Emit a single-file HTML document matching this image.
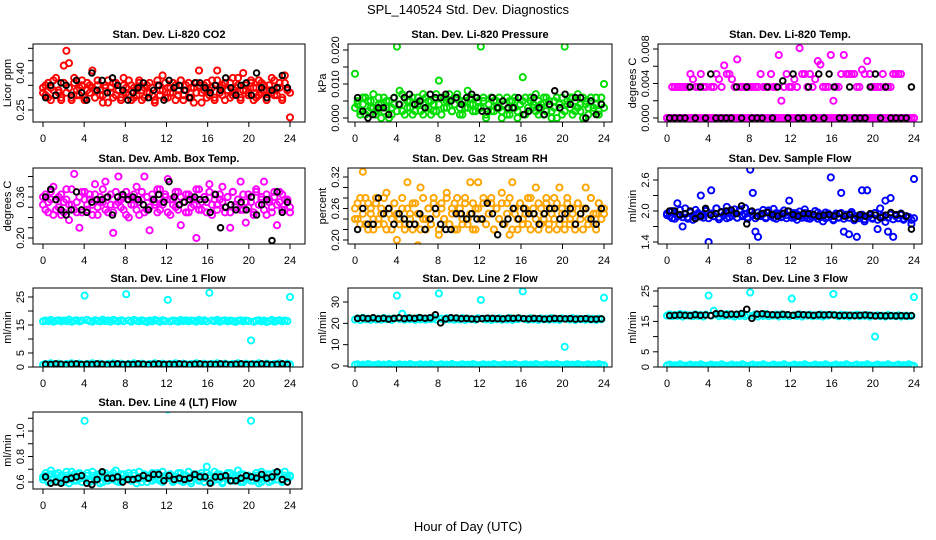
<!DOCTYPE html>
<html><head><meta charset="utf-8"><style>
html,body{margin:0;padding:0;background:#fff;}
svg{display:block;font-family:"Liberation Sans",sans-serif;}
</style></head><body>
<svg id="c" width="936" height="540" viewBox="0 0 936 540">
<text x="468" y="14" text-anchor="middle" font-size="13">SPL_140524  Std. Dev. Diagnostics</text>
<text x="468" y="531" text-anchor="middle" font-size="13">Hour of Day (UTC)</text>
</svg>
<script>
const xTicks=[0,4,8,12,16,20,24];
const co2A=[0.34,0.31,0.36,0.29,0.33,0.38,0.32,0.30,0.43,0.49,0.44,0.29,0.36,0.31,0.34,0.37,0.30,0.33,0.35,0.41,0.33,0.35,0.31,0.28,0.34,0.37,0.32,0.30,0.36,0.33,0.29,0.38,0.34,0.31,0.35,0.30,0.33,0.37,0.29,0.34,0.32,0.36,0.31,0.28,0.35,0.33,0.39,0.30,0.34,0.32,0.36,0.29,0.33,0.37,0.31,0.35,0.30,0.34,0.28,0.36,0.41,0.32,0.35,0.30,0.33,0.37,0.29,0.41,0.34,0.31,0.36,0.33,0.30,0.38,0.32,0.35,0.29,0.40,0.33,0.31,0.36,0.34,0.30,0.37,0.32,0.35,0.29,0.33,0.38,0.31,0.34,0.36,0.30,0.39,0.33,0.22];
const co2B=[0.32,0.35,0.30,0.34,0.37,0.31,0.33,0.29,0.36,0.32,0.34,0.30,0.38,0.33,0.31,0.35,0.29,0.36,0.32,0.34,0.30,0.37,0.33,0.31,0.35,0.28,0.34,0.36,0.31,0.33,0.30,0.35,0.32,0.37,0.29,0.34,0.31,0.36,0.33,0.30,0.35,0.32,0.34,0.29,0.37,0.31,0.33,0.36,0.30,0.34,0.32,0.35,0.31,0.37,0.29,0.33,0.36,0.30,0.34,0.32,0.35,0.28,0.33,0.36,0.31,0.34,0.30,0.37,0.32,0.35,0.29,0.33,0.36,0.31,0.34,0.38,0.30,0.33,0.35,0.32,0.37,0.29,0.34,0.31,0.36,0.33,0.30,0.35,0.32,0.37,0.31,0.34,0.29,0.36,0.33,0.32];
const co2K=[0.30,0.35,0.31,0.36,0.35,0.31,0.37,0.32,0.29,0.40,0.33,0.37,0.32,0.38,0.35,0.33,0.29,0.32,0.34,0.36,0.30,0.33,0.35,0.29,0.37,0.34,0.35,0.33,0.30,0.36,0.36,0.34,0.32,0.35,0.33,0.38,0.34,0.31,0.35,0.36,0.31,0.40,0.34,0.30,0.33,0.34,0.39,0.34];
const presA=[0.013,0.004,0.002,0.006,0.001,0.005,0.003,0.007,0.002,0.004,0.000,0.006,0.003,0.005,0.001,0.004,0.021,0.008,0.002,0.006,0.003,0.005,0.001,0.004,0.006,0.002,0.007,0.003,0.005,0.001,0.004,0.002,0.011,0.006,0.003,0.005,0.007,0.002,0.004,0.006,0.001,0.005,0.003,0.008,0.004,0.002,0.006,0.003,0.021,0.005,0.000,0.004,0.006,0.002,0.005,0.003,0.000,0.004,0.006,0.001,0.005,0.003,0.000,0.004,0.012,0.006,0.002,0.005,0.003,0.007,0.001,0.004,0.006,0.002,0.005,0.000,0.003,0.006,0.004,0.001,0.021,0.005,0.003,0.006,0.002,0.007,0.004,0.000,0.005,0.003,0.006,0.002,0.004,0.001,0.006,0.010];
const presB=[0.003,0.005,0.001,0.004,0.006,0.002,0.005,0.003,0.001,0.006,0.004,0.002,0.005,0.000,0.003,0.006,0.002,0.004,0.007,0.001,0.005,0.003,0.006,0.002,0.004,0.005,0.001,0.006,0.003,0.005,0.002,0.007,0.004,0.001,0.006,0.003,0.005,0.002,0.004,0.007,0.003,0.001,0.005,0.003,0.006,0.004,0.002,0.005,0.003,0.006,0.001,0.004,0.002,0.005,0.003,0.006,0.002,0.004,0.001,0.005,0.003,0.006,0.002,0.004,0.005,0.001,0.003,0.006,0.004,0.002,0.005,0.003,0.001,0.006,0.004,0.002,0.005,0.000,0.003,0.006,0.002,0.004,0.006,0.001,0.005,0.003,0.002,0.006,0.004,0.001,0.005,0.003,0.006,0.002,0.004,0.003];
const presK=[0.006,0.002,0.000,0.001,0.003,0.003,0.001,0.006,0.004,0.006,0.007,0.004,0.005,0.003,0.007,0.006,0.006,0.007,0.005,0.006,0.004,0.006,0.007,0.006,0.002,0.002,0.006,0.003,0.005,0.003,0.003,0.006,0.001,0.002,0.006,0.003,0.001,0.004,0.008,0.003,0.007,0.004,0.006,0.006,0.000,0.005,0.001,0.004];
const tempA=[0,0,0,0,0,0,0,0,0,0,0,0,0,0,0,0,0,0,0,0,0,0,0,0,0,0,0,0,0,0,0,0,0,0,0,0,0,0,0,0,0,0,0,0,0,0,0,0,0,0,0,0,0,0,0,0,0,0,0,0,0,0,0,0,0,0,0,0,0,0,0,0,0,0,0,0,0,0,0,0,0,0,0,0,0,0,0,0,0,0,0,0,0,0,0,0];
const tempB=[0,0,0.0036,0.0036,0.0036,0.0036,0.0036,0.0036,0.0036,0.0051,0.0045,0.0036,0.0036,0.0051,0.0036,0.0036,0,0.0036,0.0036,0.0051,0.0045,0.0036,0.0061,0.0051,0.0051,0.0045,0.0036,0.0068,0.0036,0.0036,0.0036,0.0036,0.0036,0.0036,0.0036,0.0036,0.0051,0.0036,0.0036,0.0036,0.0051,0.0036,0.0036,0.0073,0.0020,0.0036,0.0051,0.0036,0.0036,0.0045,0.0036,0.0081,0.0051,0.0051,0.0036,0.0051,0.0036,0.0045,0.0066,0.0062,0.0036,0.0036,0.0036,0.0073,0.0020,0.0036,0.0036,0.0051,0.0073,0.0051,0.0051,0.0051,0.0051,0.0036,0.0036,0.0056,0.0051,0.0066,0.0051,0.0036,0.0036,0.0036,0.0036,0.0051,0.0036,0.0036,0.0036,0.0051,0.0051,0.0051,0.0051,0,0,0,0,0];
const tempK=[0,0,0,0,0.0036,0,0.0036,0,0.0051,0,0,0,0,0.0036,0,0.0036,0,0,0,0.0036,0,0.0036,0.0043,0,0.0051,0,0,0.0036,0,0.0051,0,0.0051,0.0036,0,0,0.0036,0,0,0,0.0036,0.0051,0,0.0036,0,0,0,0,0.0036];
const ambA=[0.33,0.37,0.30,0.35,0.40,0.31,0.36,0.29,0.34,0.39,0.27,0.33,0.45,0.30,0.24,0.38,0.35,0.31,0.37,0.33,0.41,0.29,0.36,0.34,0.42,0.30,0.37,0.22,0.33,0.44,0.35,0.31,0.38,0.28,0.36,0.33,0.40,0.29,0.35,0.44,0.31,0.23,0.37,0.34,0.30,0.39,0.33,0.36,0.43,0.29,0.35,0.32,0.38,0.25,0.34,0.37,0.30,0.36,0.33,0.20,0.39,0.31,0.36,0.34,0.41,0.29,0.37,0.33,0.35,0.40,0.30,0.36,0.24,0.38,0.32,0.35,0.42,0.31,0.26,0.37,0.34,0.30,0.39,0.33,0.36,0.42,0.29,0.35,0.32,0.38,0.25,0.34,0.37,0.31,0.35,0.32];
const ambB=[0.36,0.31,0.34,0.38,0.29,0.35,0.32,0.37,0.30,0.35,0.33,0.39,0.31,0.34,0.36,0.30,0.38,0.33,0.35,0.29,0.37,0.32,0.34,0.39,0.31,0.36,0.33,0.30,0.38,0.34,0.32,0.36,0.29,0.35,0.33,0.37,0.31,0.34,0.38,0.30,0.36,0.32,0.35,0.33,0.39,0.31,0.34,0.37,0.30,0.35,0.33,0.38,0.31,0.36,0.34,0.30,0.37,0.32,0.35,0.39,0.31,0.34,0.36,0.30,0.38,0.33,0.35,0.31,0.37,0.34,0.32,0.36,0.30,0.38,0.33,0.35,0.31,0.37,0.34,0.32,0.36,0.29,0.38,0.33,0.35,0.31,0.37,0.34,0.30,0.36,0.33,0.38,0.31,0.35,0.34,0.30];
const ambK=[0.36,0.39,0.35,0.31,0.29,0.31,0.38,0.31,0.30,0.34,0.35,0.35,0.36,0.29,0.36,0.37,0.35,0.36,0.35,0.33,0.31,0.35,0.37,0.34,0.42,0.36,0.33,0.34,0.35,0.36,0.35,0.35,0.30,0.37,0.24,0.32,0.33,0.31,0.34,0.31,0.36,0.29,0.33,0.35,0.19,0.38,0.30,0.34];
const rhA=[0.26,0.24,0.28,0.33,0.23,0.27,0.25,0.22,0.28,0.24,0.26,0.23,0.29,0.25,0.22,0.27,0.20,0.24,0.26,0.23,0.31,0.25,0.22,0.27,0.19,0.30,0.24,0.22,0.26,0.23,0.28,0.25,0.21,0.27,0.24,0.29,0.23,0.26,0.22,0.28,0.25,0.23,0.27,0.24,0.31,0.22,0.26,0.31,0.24,0.27,0.23,0.25,0.28,0.22,0.26,0.24,0.29,0.23,0.27,0.21,0.31,0.25,0.22,0.27,0.24,0.26,0.23,0.28,0.25,0.30,0.22,0.26,0.24,0.27,0.23,0.25,0.28,0.22,0.30,0.26,0.24,0.27,0.23,0.25,0.22,0.27,0.24,0.26,0.30,0.23,0.28,0.25,0.22,0.27,0.26,0.25];
const rhB=[0.24,0.27,0.23,0.25,0.28,0.22,0.26,0.24,0.27,0.23,0.25,0.28,0.22,0.26,0.24,0.27,0.25,0.23,0.28,0.22,0.26,0.24,0.27,0.23,0.25,0.22,0.28,0.24,0.26,0.23,0.27,0.25,0.22,0.26,0.24,0.28,0.23,0.25,0.27,0.22,0.26,0.24,0.28,0.23,0.25,0.27,0.22,0.26,0.24,0.28,0.23,0.25,0.27,0.22,0.26,0.24,0.27,0.23,0.25,0.28,0.22,0.26,0.24,0.27,0.23,0.25,0.28,0.22,0.26,0.24,0.27,0.23,0.25,0.28,0.22,0.26,0.24,0.27,0.23,0.25,0.22,0.28,0.24,0.26,0.23,0.27,0.25,0.22,0.26,0.24,0.28,0.23,0.25,0.27,0.24,0.26];
const rhK=[0.22,0.26,0.23,0.23,0.28,0.25,0.26,0.23,0.25,0.24,0.23,0.23,0.25,0.22,0.24,0.26,0.23,0.22,0.22,0.25,0.25,0.24,0.25,0.24,0.24,0.27,0.25,0.21,0.23,0.24,0.26,0.24,0.26,0.25,0.25,0.23,0.25,0.26,0.26,0.24,0.25,0.26,0.23,0.25,0.26,0.24,0.23,0.26];
const sfA=[1.95,1.90,2.00,1.85,2.15,1.92,1.70,2.05,1.88,1.97,1.83,2.02,1.93,2.30,1.87,2.00,1.40,2.40,1.90,2.05,1.84,1.98,1.93,2.08,1.88,1.96,2.03,1.87,1.99,1.92,2.06,1.85,2.80,2.35,1.60,1.50,1.93,2.02,1.86,1.97,1.90,2.04,1.85,1.95,1.88,2.01,1.92,2.20,1.87,1.96,1.83,1.99,1.91,2.03,1.86,1.94,1.89,2.00,1.85,1.93,1.80,1.97,1.88,2.65,1.82,1.95,1.87,2.35,1.60,1.93,1.55,1.98,1.86,1.50,1.90,2.40,1.84,2.40,1.92,1.87,1.96,1.65,2.05,1.88,2.20,1.60,2.25,1.50,1.92,1.86,1.95,1.83,1.90,1.88,1.75,2.62];
const sfB=[1.92,1.98,1.86,1.95,1.90,2.02,1.88,1.94,1.85,1.99,1.91,1.87,1.96,1.89,1.93,2.01,1.86,1.95,1.90,2.05,1.88,1.97,1.92,1.86,2.00,1.91,1.95,1.87,2.03,1.90,1.94,1.88,1.98,1.92,1.86,1.97,1.90,1.95,1.88,2.01,1.93,1.87,1.96,1.91,1.89,1.95,1.86,1.99,1.92,1.88,1.94,1.90,1.87,1.96,1.91,1.85,1.93,1.89,1.97,1.88,1.92,1.86,1.95,1.90,1.84,1.93,1.88,1.96,1.85,1.91,1.87,1.94,1.82,1.90,1.86,1.93,1.80,1.89,1.92,1.85,1.96,1.83,1.88,1.91,1.79,1.87,1.93,1.84,1.90,1.86,1.92,1.85,1.89,1.88,1.83,1.86];
const sfK=[2.00,2.00,1.93,1.95,2.00,1.85,1.90,2.05,1.92,1.95,1.98,2.00,2.02,1.95,2.10,1.75,2.00,1.90,1.95,1.97,1.93,1.90,1.95,2.00,1.93,1.90,1.95,1.95,1.93,1.90,1.92,1.93,1.90,1.95,1.90,1.93,1.85,1.93,1.90,1.95,1.92,1.87,1.92,1.97,1.93,1.95,1.90,1.65];
const l1A=[16.3,16.6,16.4,16.8,16.2,16.5,16.7,16.3,16.6,16.4,16.9,16.2,16.5,16.7,16.3,16.6,25.5,16.8,16.4,16.2,16.7,16.5,16.3,16.9,16.4,16.6,16.2,16.8,16.5,16.3,16.7,16.4,26.0,16.6,16.2,16.8,16.5,16.3,16.7,16.4,16.1,16.6,16.3,16.8,16.5,16.2,16.7,16.4,24.0,16.3,16.6,16.5,16.2,16.8,16.4,16.7,16.3,16.6,16.5,16.2,16.8,16.4,16.7,16.3,26.5,16.6,16.4,16.8,16.2,16.5,16.7,16.3,16.6,16.4,16.1,16.5,16.7,16.3,16.6,16.4,9.5,16.2,16.5,16.7,16.3,16.6,16.1,16.4,16.8,16.2,16.5,16.7,16.3,16.6,16.4,25.0];
const l1B=[0.8,1.1,0.9,1.3,1.0,0.7,1.2,0.9,0.8,1.1,0.9,1.3,1.0,0.7,1.2,0.9,0.8,1.1,0.9,1.3,1.0,0.7,1.2,0.9,0.8,1.1,0.9,1.3,1.0,0.7,1.2,0.9,0.8,1.1,0.9,1.3,1.0,0.7,1.2,0.9,0.8,1.1,0.9,1.3,1.0,0.7,1.2,0.9,0.8,1.1,0.9,1.3,1.0,0.7,1.2,0.9,0.8,1.1,0.9,1.3,1.0,0.7,1.2,0.9,0.8,1.1,0.9,1.3,1.0,0.7,1.2,0.9,0.8,1.1,0.9,1.3,1.0,0.7,1.2,0.9,0.8,1.1,0.9,1.3,1.0,0.7,1.2,0.9,0.8,1.1,0.9,1.3,1.0,0.7,1.2,0.9];
const l1K=[1.0,0.9,1.1,1.0,0.8,1.0,1.1,0.9,1.0,0.9,1.1,1.0,0.8,1.0,1.1,0.9,1.0,0.9,1.1,1.0,0.8,1.0,1.1,0.9,1.0,0.9,1.1,1.0,0.8,1.0,1.1,0.9,1.0,0.9,1.1,1.0,0.8,1.0,1.1,0.9,1.0,0.9,1.1,1.0,0.8,1.0,1.1,0.9];
const l2A=[21.8,22.3,21.5,22.6,21.9,22.2,21.6,22.4,21.8,22.1,21.7,22.5,21.9,22.2,21.6,22.3,33.0,22.0,24.5,21.7,22.4,21.9,22.2,21.6,22.5,21.8,22.1,21.7,22.3,21.9,22.6,21.8,34.0,22.2,21.6,22.4,21.9,22.1,21.7,22.3,21.8,22.5,21.6,22.2,21.9,22.0,21.7,22.4,31.0,22.1,21.8,22.3,21.6,22.2,21.9,22.4,21.7,22.1,21.8,22.5,21.6,22.2,21.9,22.3,35.0,22.0,21.7,22.4,21.8,22.1,21.6,22.3,21.9,22.2,21.7,22.5,21.8,22.0,21.6,22.3,9.0,22.1,21.8,22.4,21.6,22.2,21.9,22.0,21.7,22.3,21.8,22.1,21.6,22.2,21.9,32.0];
const l2B=[0.5,0.8,0.3,0.6,0.4,0.9,0.5,0.3,0.5,0.8,0.3,0.6,0.4,0.9,0.5,0.3,0.5,0.8,0.3,0.6,0.4,0.9,0.5,0.3,0.5,0.8,0.3,0.6,0.4,0.9,0.5,0.3,0.5,0.8,0.3,0.6,0.4,0.9,0.5,0.3,0.5,0.8,0.3,0.6,0.4,0.9,0.5,0.3,0.5,0.8,0.3,0.6,0.4,0.9,0.5,0.3,0.5,0.8,0.3,0.6,0.4,0.9,0.5,0.3,0.5,0.8,0.3,0.6,0.4,0.9,0.5,0.3,0.5,0.8,0.3,0.6,0.4,0.9,0.5,0.3,0.5,0.8,0.3,0.6,0.4,0.9,0.5,0.3,0.5,0.8,0.3,0.6,0.4,0.9,0.5,0.3];
const l2K=[22.3,22.5,22.2,22.6,22.1,22.4,22.0,22.3,22.6,22.2,22.5,22.3,22.7,22.4,22.6,24.0,20.2,22.1,22.6,22.5,22.2,22.3,22.1,22.0,22.2,22.4,22.3,22.2,22.1,22.4,22.3,22.5,22.2,22.1,22.3,22.2,22.0,22.1,22.3,22.2,22.1,22.2,22.0,22.1,22.2,21.9,22.0,22.1];
const l3A=[16.9,17.3,16.7,17.1,16.8,17.4,16.6,17.2,16.9,17.0,16.7,17.3,16.8,17.1,16.6,17.2,23.5,16.9,18.5,17.3,16.7,17.1,16.8,17.4,16.9,17.0,16.6,17.3,16.8,17.2,16.7,17.1,24.5,16.9,17.3,16.6,17.1,16.8,17.4,16.7,17.0,16.9,17.2,16.6,17.3,16.8,17.1,16.7,22.5,17.0,16.8,17.3,16.6,17.1,16.9,17.2,16.7,17.0,16.8,17.3,16.6,17.1,16.9,17.2,24.0,17.0,16.7,17.2,16.8,17.1,16.6,17.0,16.9,17.2,16.7,17.0,16.8,17.1,16.6,16.9,10.0,17.0,16.7,16.9,16.6,17.1,16.8,16.9,16.7,17.0,16.6,16.8,16.9,16.7,16.8,23.0];
const l3B=[0.5,0.8,0.3,0.6,0.4,0.9,0.5,0.3,0.5,0.8,0.3,0.6,0.4,0.9,0.5,0.3,0.5,0.8,0.3,0.6,0.4,0.9,0.5,0.3,0.5,0.8,0.3,0.6,0.4,0.9,0.5,0.3,0.5,0.8,0.3,0.6,0.4,0.9,0.5,0.3,0.5,0.8,0.3,0.6,0.4,0.9,0.5,0.3,0.5,0.8,0.3,0.6,0.4,0.9,0.5,0.3,0.5,0.8,0.3,0.6,0.4,0.9,0.5,0.3,0.5,0.8,0.3,0.6,0.4,0.9,0.5,0.3,0.5,0.8,0.3,0.6,0.4,0.9,0.5,0.3,0.5,0.8,0.3,0.6,0.4,0.9,0.5,0.3,0.5,0.8,0.3,0.6,0.4,0.9,0.5,0.3];
const l3K=[16.9,17.0,17.1,17.0,16.9,17.2,17.0,17.1,16.9,17.5,17.6,17.2,17.4,17.3,17.6,19.0,16.0,17.4,17.5,17.3,17.2,17.1,17.3,17.2,17.0,17.3,17.2,17.1,17.0,17.2,17.1,17.2,17.1,16.9,17.0,17.0,16.9,17.0,17.1,17.0,16.8,16.9,16.8,16.9,16.8,16.9,16.8,16.9];
const l4A=[0.64,0.67,0.61,0.69,0.63,0.66,0.60,0.65,0.62,0.68,0.59,0.64,0.66,0.61,0.67,0.63,1.08,0.65,0.60,0.68,0.62,0.66,0.59,0.64,0.67,0.61,0.65,0.63,0.69,0.60,0.66,0.62,0.64,0.67,0.61,0.65,0.59,0.68,0.63,0.66,0.60,0.64,0.67,0.62,0.65,0.61,0.68,0.63,1.17,0.66,0.60,0.64,0.67,0.61,0.65,0.62,0.68,0.59,0.64,0.66,0.61,0.67,0.63,0.72,0.65,0.60,0.68,0.62,0.66,0.59,0.64,0.67,0.61,0.65,0.63,0.69,0.60,0.66,0.62,0.64,1.08,0.61,0.65,0.59,0.68,0.63,0.66,0.60,0.64,0.67,0.62,0.65,0.61,0.68,0.63,0.65];
const l4B=[0.62,0.65,0.60,0.66,0.63,0.61,0.67,0.64,0.60,0.65,0.62,0.68,0.61,0.64,0.66,0.60,0.63,0.67,0.62,0.65,0.61,0.64,0.66,0.60,0.63,0.65,0.62,0.67,0.61,0.64,0.60,0.66,0.63,0.65,0.61,0.67,0.62,0.64,0.60,0.66,0.63,0.65,0.61,0.64,0.67,0.62,0.60,0.65,0.63,0.66,0.61,0.64,0.62,0.67,0.60,0.65,0.63,0.61,0.66,0.64,0.62,0.65,0.60,0.67,0.63,0.61,0.64,0.66,0.62,0.60,0.65,0.63,0.67,0.61,0.64,0.62,0.66,0.60,0.63,0.65,0.61,0.64,0.67,0.62,0.60,0.65,0.63,0.66,0.61,0.64,0.62,0.67,0.60,0.65,0.63,0.64];
const l4K=[0.64,0.59,0.60,0.59,0.62,0.63,0.64,0.65,0.59,0.58,0.62,0.68,0.63,0.63,0.64,0.60,0.62,0.62,0.63,0.65,0.63,0.66,0.66,0.61,0.65,0.62,0.63,0.62,0.63,0.66,0.64,0.64,0.59,0.64,0.64,0.65,0.61,0.61,0.63,0.65,0.64,0.63,0.66,0.63,0.64,0.68,0.62,0.60];

const panels=[
 {id:'co2',title:'Stan. Dev. Li-820 CO2',ylab:'Licor ppm',box:[33,44,305,122],xp:[43,290],ym:[0.25,110,0.40,73],ticks:[0.25,0.30,0.35,0.40,0.45,0.50],labels:['0.25','0.40'],lv:[0.25,0.40],series:[co2A,co2B],color:'#ff0000',black:co2K},
 {id:'pressure',title:'Stan. Dev. Li-820 Pressure',ylab:'kPa',box:[348,44,612,122],xp:[355,604],ym:[0,118,0.020,50],ticks:[0,0.005,0.010,0.015,0.020],labels:['0.000','0.010','0.020'],lv:[0,0.010,0.020],series:[presA,presB],color:'#00dd00',black:presK},
 {id:'li820-temp',title:'Stan. Dev. Li-820 Temp.',ylab:'degrees C',box:[658,44,922,122],xp:[667,914],ym:[0,118,0.008,49],ticks:[0,0.002,0.004,0.006,0.008],labels:['0.000','0.004','0.008'],lv:[0,0.004,0.008],series:[tempA,tempB],color:'#ff00ff',black:tempK},
 {id:'amb-box-temp',title:'Stan. Dev. Amb. Box Temp.',ylab:'degrees C',box:[33,168,305,244],xp:[43,290],ym:[0.20,238,0.36,197],ticks:[0.20,0.24,0.28,0.32,0.36,0.40,0.44],labels:['0.20','0.36'],lv:[0.20,0.36],series:[ambA,ambB],color:'#ff00ff',black:ambK},
 {id:'gas-stream-rh',title:'Stan. Dev. Gas Stream RH',ylab:'percent',box:[348,168,612,244],xp:[355,604],ym:[0.20,240,0.32,177],ticks:[0.20,0.22,0.24,0.26,0.28,0.30,0.32],labels:['0.20','0.26','0.32'],lv:[0.20,0.26,0.32],series:[rhA,rhB],color:'#ffa500',black:rhK},
 {id:'sample-flow',title:'Stan. Dev. Sample Flow',ylab:'ml/min',box:[658,168,922,244],xp:[667,914],ym:[1.4,242,2.6,180],ticks:[1.4,1.7,2.0,2.3,2.6],labels:['1.4','2.0','2.6'],lv:[1.4,2.0,2.6],series:[sfA,sfB],color:'#0000ff',black:sfK},
 {id:'line1-flow',title:'Stan. Dev. Line 1 Flow',ylab:'ml/min',box:[33,288,303,367],xp:[43,290],ym:[0,367,25,297],ticks:[0,5,10,15,20,25],labels:['0','5','15','25'],lv:[0,5,15,25],series:[l1A,l1B],color:'#00ffff',black:l1K},
 {id:'line2-flow',title:'Stan. Dev. Line 2 Flow',ylab:'ml/min',box:[348,288,612,367],xp:[355,604],ym:[0,366,30,302],ticks:[0,10,20,30],labels:['0','10','20','30'],lv:[0,10,20,30],series:[l2A,l2B],color:'#00ffff',black:l2K},
 {id:'line3-flow',title:'Stan. Dev. Line 3 Flow',ylab:'ml/min',box:[658,288,922,367],xp:[667,914],ym:[0,367,25,291],ticks:[0,5,10,15,20,25],labels:['0','5','15','25'],lv:[0,5,15,25],series:[l3A,l3B],color:'#00ffff',black:l3K},
 {id:'line4-flow',title:'Stan. Dev. Line 4 (LT) Flow',ylab:'ml/min',box:[33,412,302,489],xp:[43,290],ym:[0.6,482,1.0,431],ticks:[0.6,0.7,0.8,0.9,1.0,1.1],labels:['0.6','0.8','1.0'],lv:[0.6,0.8,1.0],series:[l4A,l4B],color:'#00ffff',black:l4K}
];

const svg=document.getElementById('c');
const NS='http://www.w3.org/2000/svg';
function mk(tag,attrs,parent){const e=document.createElementNS(NS,tag);for(const k in attrs)e.setAttribute(k,attrs[k]);(parent||svg).appendChild(e);return e;}

panels.forEach(p=>{
 const g=mk('g',{});
 
 
 const [bx0,by0,bx1,by1]=p.box;
 const xs=h=>p.xp[0]+(h/24)*(p.xp[1]-p.xp[0]);
 const ys=v=>p.ym[1]+(v-p.ym[0])*(p.ym[3]-p.ym[1])/(p.ym[2]-p.ym[0]);
 const clip=mk('clipPath',{id:'cl-'+p.id},g);
 mk('rect',{x:bx0,y:by0,width:bx1-bx0,height:by1-by0},clip);
 const pts=mk('g',{'clip-path':'url(#cl-'+p.id+')'},g);
 p.series.forEach((arr,si)=>{
  arr.forEach((v,i)=>{
   const c=mk('circle',{cx:xs(i*24/(arr.length-1)),cy:ys(v),r:3.1,fill:'none',stroke:p.color,'stroke-width':1.9},pts);
   
   
  });
 });
 p.black.forEach((v,i)=>{
  const c=mk('circle',{cx:xs((i+0.5)*24/p.black.length),cy:ys(v),r:2.8,fill:'none',stroke:'#000','stroke-width':1.9},pts);
  
  
 });
 const box=mk('rect',{x:bx0,y:by0,width:bx1-bx0,height:by1-by0,fill:'none',stroke:'#000','stroke-width':1},g);
 
 
 const t=mk('text',{x:(bx0+bx1)/2,y:by0-6,'text-anchor':'middle','font-size':11,'font-weight':'bold'},g);
 t.textContent=p.title;
 
 
 mk('line',{x1:xs(0),x2:xs(24),y1:by1,y2:by1,stroke:'#000'},g);
 xTicks.forEach(h=>{
  mk('line',{x1:xs(h),x2:xs(h),y1:by1,y2:by1+5,stroke:'#000'},g);
  const tl=mk('text',{x:xs(h),y:by1+20,'text-anchor':'middle','font-size':11},g);
  tl.textContent=String(h);
  
  
 });
 const t0=p.ticks[0],t1=p.ticks[p.ticks.length-1];
 mk('line',{x1:bx0,x2:bx0,y1:ys(t0),y2:ys(t1),stroke:'#000'},g);
 p.ticks.forEach(v=>{mk('line',{x1:bx0-5,x2:bx0,y1:ys(v),y2:ys(v),stroke:'#000'},g);});
 p.lv.forEach((v,i)=>{
  const yl=mk('text',{x:0,y:0,'text-anchor':'middle','font-size':11,transform:'translate('+(bx0-9)+','+ys(v)+') rotate(-90)'},g);
  yl.textContent=p.labels[i];
  
  
 });
 const yt=mk('text',{x:0,y:0,'text-anchor':'middle','font-size':11,transform:'translate('+(bx0-22)+','+((by0+by1)/2)+') rotate(-90)'},g);
 yt.textContent=p.ylab;
 
 
});
</script>
</body></html>
